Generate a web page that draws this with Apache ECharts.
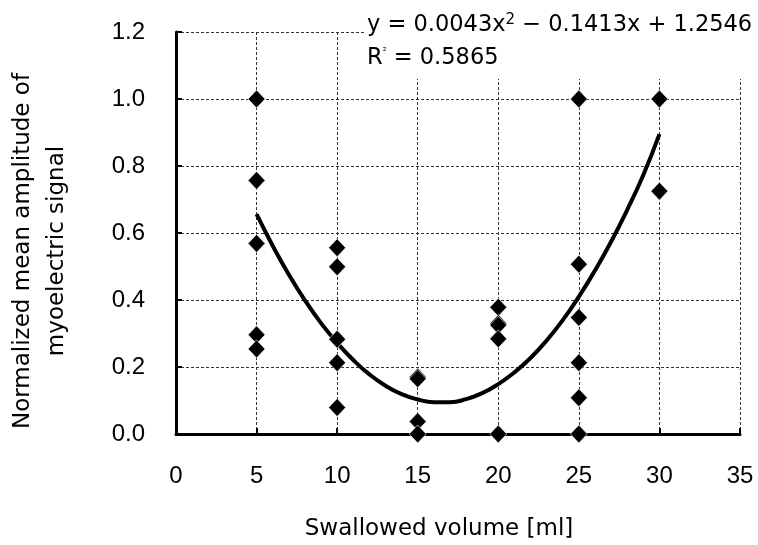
<!DOCTYPE html>
<html>
<head>
<meta charset="utf-8">
<script src="https://cdn.jsdelivr.net/npm/echarts@6/dist/echarts.min.js"></script>
<style>html,body{margin:0;padding:0;background:#fff;}#c{width:758px;height:545px;}</style>
</head>
<body>
<div id="c"></div>
<script>
// Data
const volume = [5,5,5,5,5, 10,10,10,10,10, 15,15,15,15, 20,20,20,20,20, 25,25,25,25,25,25, 30,30];
const amplitude = [1.0,0.757,0.569,0.296,0.254, 0.556,0.499,0.283,0.213,0.079, 0.170,0.165,0.037,0.0, 0.378,0.330,0.325,0.284,0.0, 1.0,0.507,0.348,0.213,0.108,0.0, 1.0,0.725];
// Trendline points
const trendX = [5,6,7,8,9,10,11,12,13,14,15,16,17,18,19,20,21,22,23,24,25,26,27,28,29,30];
const trendY = [0.656,0.562,0.476,0.399,0.331,0.272,0.221,0.178,0.144,0.119,0.103,0.095,0.095,0.104,0.122,0.149,0.184,0.227,0.279,0.340,0.410,0.488,0.574,0.669,0.773,0.895];
const xTicks = [0,5,10,15,20,25,30,35];
const yTicks = [0.0,0.2,0.4,0.6,0.8,1.0,1.2];
const xTitle = 'Swallowed volume [ml]';
const yTitle = ['Normalized mean amplitude of','myoelectric signal'];

const TFONT = 'DejaVu Sans';
const LFONT = 'Liberation Sans';
const chart = echarts.init(document.getElementById('c'), null, {renderer:'canvas'});
const dash = {type:[3,2], color:'#333', width:1};
chart.setOption({
  animation:false,
  backgroundColor:'#fff',
  grid:{left:176, right:18, top:32, bottom:111, containLabel:false},
  xAxis:{
    type:'value', min:xTicks[0], max:xTicks[xTicks.length-1], interval:5,
    axisLine:{show:true, onZero:false, lineStyle:{color:'#000', width:3}},
    axisTick:{show:true, inside:true, length:6, lineStyle:{color:'#000', width:2}},
    axisLabel:{margin:30, color:'#000', fontFamily:LFONT, fontSize:24, formatter:v=>String(v)},
    splitLine:{show:true, lineStyle:dash}
  },
  yAxis:{
    type:'value', min:yTicks[0], max:yTicks[yTicks.length-1], interval:0.2,
    axisLine:{show:true, onZero:false, lineStyle:{color:'#000', width:3}},
    axisTick:{show:true, inside:true, length:6, lineStyle:{color:'#000', width:2}},
    axisLabel:{margin:31, color:'#000', fontFamily:LFONT, fontSize:24, formatter:v=>v.toFixed(1)},
    splitLine:{show:true, lineStyle:dash}
  },
  graphic:[
    {type:'text', z:50, rotation:Math.PI/2, position:[40,251],
     style:{text:yTitle.join('\n'), fill:'#000', font:'23px "DejaVu Sans"', textAlign:'center', textVerticalAlign:'middle', lineHeight:34}},
    {type:'text', z:50, position:[439,529],
     style:{text:xTitle, fill:'#000', font:'23px "DejaVu Sans"', textAlign:'center', textVerticalAlign:'middle'}},
    {type:'rect', shape:{x:364, y:0, width:394, height:79}, style:{fill:'#fff'}, z:40, silent:true},
    {type:'text', z:50, position:[367,9],
     style:{rich:{a:{fontFamily:TFONT,fontSize:22.5,fill:'#000'}, s:{fontFamily:TFONT,fontSize:15,fill:'#000',padding:[0,0,10,0]}, t:{fontFamily:TFONT,fontSize:10,fill:'#000',padding:[0,0,12,0]}},
            text:'{a|y = 0.0043x}{s|2}{a| − 0.1413x + 1.2546}\n{a|R}{t|²}{a| = 0.5865}', lineHeight:33, fill:'#000'}}
  ],
  series:[
    {type:'line', data:trendX.map((x,i)=>[x,trendY[i]]), smooth:true, showSymbol:false, symbol:'none',
     lineStyle:{color:'#000', width:4}, z:2},
    {type:'scatter', data:volume.map((x,i)=>[x,amplitude[i]]), symbol:'diamond', symbolSize:[17,18],
     itemStyle:{color:'#000', borderColor:'#fff', borderWidth:0.6, opacity:1}, z:3, clip:false}
  ]
});
</script>
</body>
</html>
